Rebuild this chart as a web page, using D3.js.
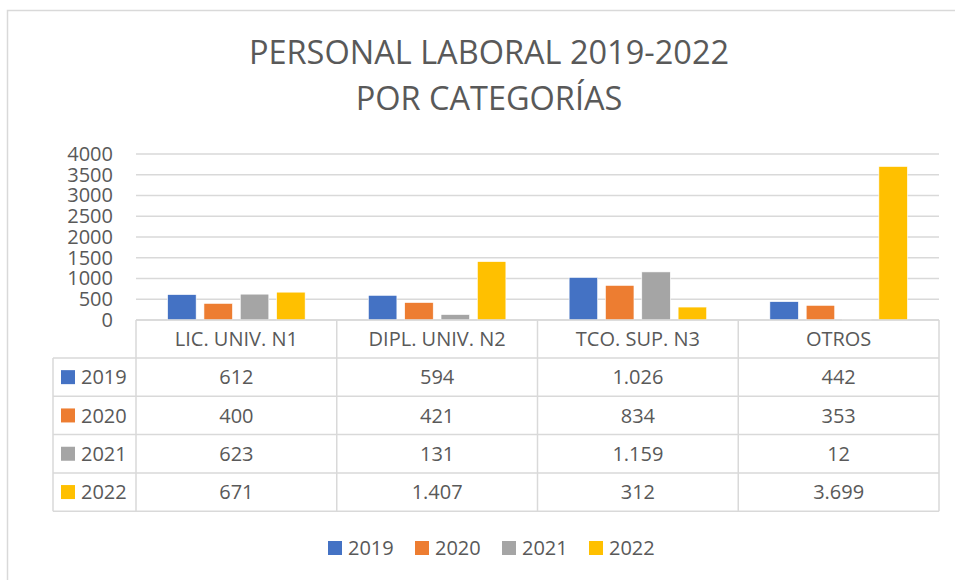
<!DOCTYPE html>
<html>
<head>
<meta charset="utf-8">
<script src="https://cdn.jsdelivr.net/npm/d3@7"></script>
<style>
  body { margin: 0; background: #fff; }
  text { font-family: "Open Sans", "Noto Sans", sans-serif; fill: #595959; }
</style>
</head>
<body>
<div id="chart"></div>
<script>
// ---- DATA ---- //
var categories = ["LIC. UNIV. N1", "DIPL. UNIV. N2", "TCO. SUP. N3", "OTROS"];
var years = ["2019", "2020", "2021", "2022"];
var values2019 = [612, 594, 1026, 442];
var values2020 = [400, 421, 834, 353];
var values2021 = [623, 131, 1159, 12];
var values2022 = [671, 1407, 312, 3699];
var yTicks = [0, 500, 1000, 1500, 2000, 2500, 3000, 3500, 4000];
var colors = ["#4472C4", "#ED7D31", "#A5A5A5", "#FFC000"];

var series = [values2019, values2020, values2021, values2022];

var width = 955, height = 580;
var plotLeft = 136, plotRight = 939, plotTop = 154, plotBottom = 320;
var rowH = 38.3, headerH = 38, tableLeft = 53;

var svg = d3.select("#chart")
    .append("svg")
    .attr("width", width)
    .attr("height", height);

// chart frame
svg.append("rect")
    .attr("x", 7.5).attr("y", 10.5)
    .attr("width", 960).attr("height", 600)
    .attr("fill", "none")
    .attr("stroke", "#D9D9D9")
    .attr("stroke-width", 1.5);

// ---- TITLE ---- //
svg.append("text")
    .attr("x", 489).attr("y", 64)
    .attr("text-anchor", "middle")
    .style("font-size", "32.5px")
    .text("PERSONAL LABORAL 2019-2022");
svg.append("text")
    .attr("x", 489).attr("y", 110)
    .attr("text-anchor", "middle")
    .style("font-size", "32.5px")
    .text("POR CATEGORÍAS");

// Scales
var x0 = d3.scaleBand()
    .domain(categories)
    .range([plotLeft, plotRight]);

var groupW = x0.bandwidth() * 0.685;
var x1 = d3.scaleBand()
    .domain(years)
    .range([(x0.bandwidth() - groupW) / 2, (x0.bandwidth() + groupW) / 2])
    .paddingInner(0.215);

var y = d3.scaleLinear()
    .domain([0, 4000])
    .range([plotBottom, plotTop]);

// ---- GRID ---- //
svg.append("g")
    .selectAll("line")
    .data(yTicks)
    .enter().append("line")
    .attr("x1", plotLeft).attr("x2", plotRight)
    .attr("y1", function(d) { return y(d); })
    .attr("y2", function(d) { return y(d); })
    .attr("stroke", "#D9D9D9")
    .attr("stroke-width", 1.5);

// ---- AXIS ---- //
var yAxis = d3.axisLeft(y)
    .tickValues(yTicks)
    .tickFormat(d3.format("d"))
    .tickSize(0)
    .tickPadding(0);

var yAxisGroup = svg.append("g")
    .attr("transform", "translate(113,0)")
    .call(yAxis);
yAxisGroup.select(".domain").remove();
yAxisGroup.selectAll("text")
    .style("font-size", "20px")
    .style("font-family", "'Open Sans', sans-serif")
    .attr("fill", "#595959");

// ---- DRAW BARS ---- //
var groups = svg.append("g")
    .selectAll("g")
    .data(categories)
    .enter().append("g")
    .attr("transform", function(d) { return "translate(" + x0(d) + ",0)"; });

groups.selectAll("rect")
    .data(function(d, i) {
        return years.map(function(yr, j) { return { year: yr, value: series[j][i], color: colors[j] }; });
    })
    .enter().append("rect")
    .attr("x", function(d) { return x1(d.year); })
    .attr("y", function(d) { return y(d.value); })
    .attr("width", x1.bandwidth())
    .attr("height", function(d) { return plotBottom - y(d.value); })
    .attr("fill", function(d) { return d.color; })
    .attr("stroke", "#fff")
    .attr("stroke-width", 0.6);

// ---- DATA TABLE ---- //
var fmt = d3.formatLocale({ decimal: ",", thousands: ".", grouping: [3], currency: ["", "€"] }).format(",d");
var table = svg.append("g");
var lineColor = "#D9D9D9";
var tableBottom = plotBottom + headerH + rowH * years.length;

// horizontal lines
table.append("line")
    .attr("x1", plotLeft).attr("x2", plotRight)
    .attr("y1", plotBottom).attr("y2", plotBottom);
d3.range(years.length + 1).forEach(function(k) {
    var yy = plotBottom + headerH + rowH * k;
    table.append("line")
        .attr("x1", tableLeft).attr("x2", plotRight)
        .attr("y1", yy).attr("y2", yy);
});
// vertical lines
table.append("line")
    .attr("x1", tableLeft).attr("x2", tableLeft)
    .attr("y1", plotBottom + headerH).attr("y2", tableBottom);
categories.forEach(function(c) {
    table.append("line")
        .attr("x1", x0(c)).attr("x2", x0(c))
        .attr("y1", plotBottom).attr("y2", tableBottom);
});
table.append("line")
    .attr("x1", plotRight).attr("x2", plotRight)
    .attr("y1", plotBottom).attr("y2", tableBottom);
table.selectAll("line")
    .attr("stroke", lineColor)
    .attr("stroke-width", 1.5);

// header labels
table.selectAll(".cat")
    .data(categories)
    .enter().append("text")
    .attr("class", "cat")
    .attr("x", function(d) { return x0(d) + x0.bandwidth() / 2; })
    .attr("y", plotBottom + headerH / 2)
    .attr("dy", "0.36em")
    .attr("text-anchor", "middle")
    .style("font-size", "20px")
    .text(function(d) { return d; });

// rows
years.forEach(function(yr, j) {
    var cy = plotBottom + headerH + rowH * j + rowH / 2;
    table.append("rect")
        .attr("x", 61).attr("y", cy - 7)
        .attr("width", 14).attr("height", 14)
        .attr("fill", colors[j]);
    table.append("text")
        .attr("x", 81).attr("y", cy)
        .attr("dy", "0.36em")
        .style("font-size", "20px")
        .text(yr);
    table.selectAll(".v" + j)
        .data(series[j])
        .enter().append("text")
        .attr("x", function(d, i) { return x0(categories[i]) + x0.bandwidth() / 2; })
        .attr("y", cy)
        .attr("dy", "0.36em")
        .attr("text-anchor", "middle")
        .style("font-size", "20px")
        .text(function(d) { return fmt(d); });
});

// ---- LEGEND ---- //
var legendX = [328, 415, 502, 589];
var legend = svg.append("g")
    .selectAll("g")
    .data(years)
    .enter().append("g")
    .attr("transform", function(d, i) { return "translate(" + legendX[i] + ",541)"; });
legend.append("rect")
    .attr("width", 14).attr("height", 14)
    .attr("fill", function(d, i) { return colors[i]; });
legend.append("text")
    .attr("x", 20).attr("y", 7)
    .attr("dy", "0.36em")
    .style("font-size", "20px")
    .text(function(d) { return d; });
</script>
</body>
</html>
